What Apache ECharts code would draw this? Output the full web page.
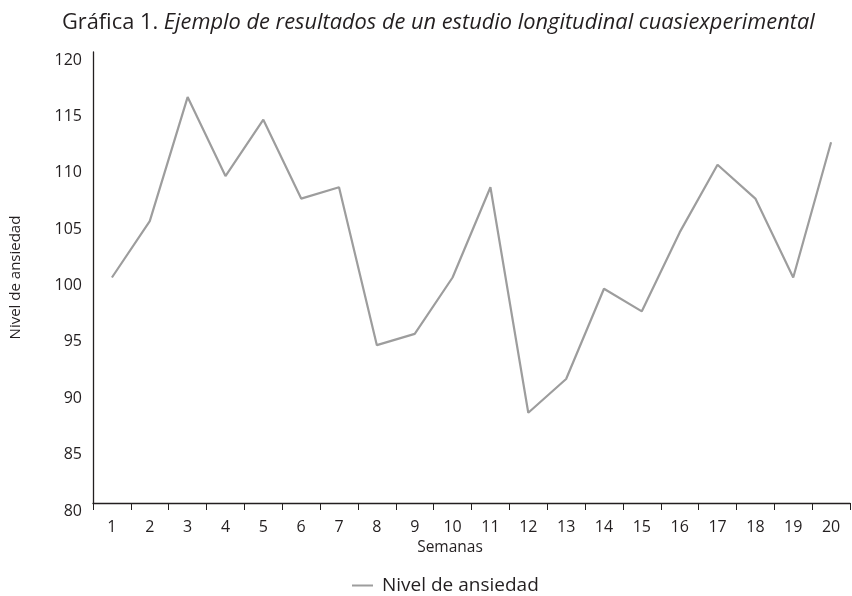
<!DOCTYPE html>
<html>
<head>
<meta charset="utf-8">
<script src="https://cdn.jsdelivr.net/npm/echarts@6/dist/echarts.min.js"></script>
<style>
  html, body { margin: 0; padding: 0; background: #fff; }
  #chart { width: 852px; height: 596px; }
</style>
</head>
<body>
<div id="chart"></div>
<script>
// semanas del estudio
const semanas = ['1', '2', '3', '4', '5', '6', '7', '8', '9', '10',
  '11', '12', '13', '14', '15', '16', '17', '18', '19', '20'];
// nivel de ansiedad por semana
const ansiedad = [100, 105, 116, 109, 114, 107, 108, 94, 95, 100,
  108, 88, 91, 99, 97, 104, 110, 107, 100, 112];

const fuente = 'Open Sans';
const negro = '#231f20';

const chart = echarts.init(document.getElementById('chart'));
chart.setOption({
  animation: false,
  textStyle: { fontFamily: fuente, color: negro },
  title: {
    left: 57,
    top: 7,
    text: '{a|Gráfica 1. }{b|Ejemplo de resultados de un estudio longitudinal cuasiexperimental}',
    textStyle: {
      rich: {
        a: { fontFamily: fuente, fontSize: 21.8, fontWeight: 'normal', color: negro },
        b: { fontFamily: fuente, fontSize: 21.8, fontWeight: 'normal', fontStyle: 'italic', color: negro }
      }
    }
  },
  grid: { left: 93, right: 2, top: 52, bottom: 93 },
  legend: {
    top: 571,
    left: 347,
    icon: 'rect',
    itemWidth: 21,
    itemHeight: 2,
    textStyle: { fontSize: 19, color: negro, padding: [0, 0, 0, 4] }
  },
  xAxis: {
    type: 'category',
    data: semanas,
    boundaryGap: true,
    name: 'Semanas',
    nameLocation: 'middle',
    nameGap: 36,
    nameTextStyle: { fontSize: 15.5, color: negro, padding: [0, 43, 0, 0] },
    axisLine: { lineStyle: { color: negro, width: 1.3 } },
    axisTick: { show: true, length: 7, lineStyle: { color: negro } },
    axisLabel: { fontSize: 16, color: negro, margin: 16 },
    splitLine: { show: false }
  },
  yAxis: {
    type: 'value',
    min: 80,
    max: 120,
    interval: 5,
    name: 'Nivel de ansiedad',
    nameLocation: 'middle',
    nameGap: 70,
    nameTextStyle: { fontSize: 15, color: negro },
    axisLine: { show: true, lineStyle: { color: negro, width: 1.3 } },
    axisTick: { show: false },
    axisLabel: { fontSize: 16, color: negro, margin: 11, verticalAlign: 'top' },
    splitLine: { show: false }
  },
  series: [{
    name: 'Nivel de ansiedad',
    type: 'line',
    data: ansiedad,
    symbol: 'none',
    lineStyle: { color: '#9d9d9d', width: 2.2 },
    itemStyle: { color: '#9d9d9d' }
  }]
});
</script>
</body>
</html>
